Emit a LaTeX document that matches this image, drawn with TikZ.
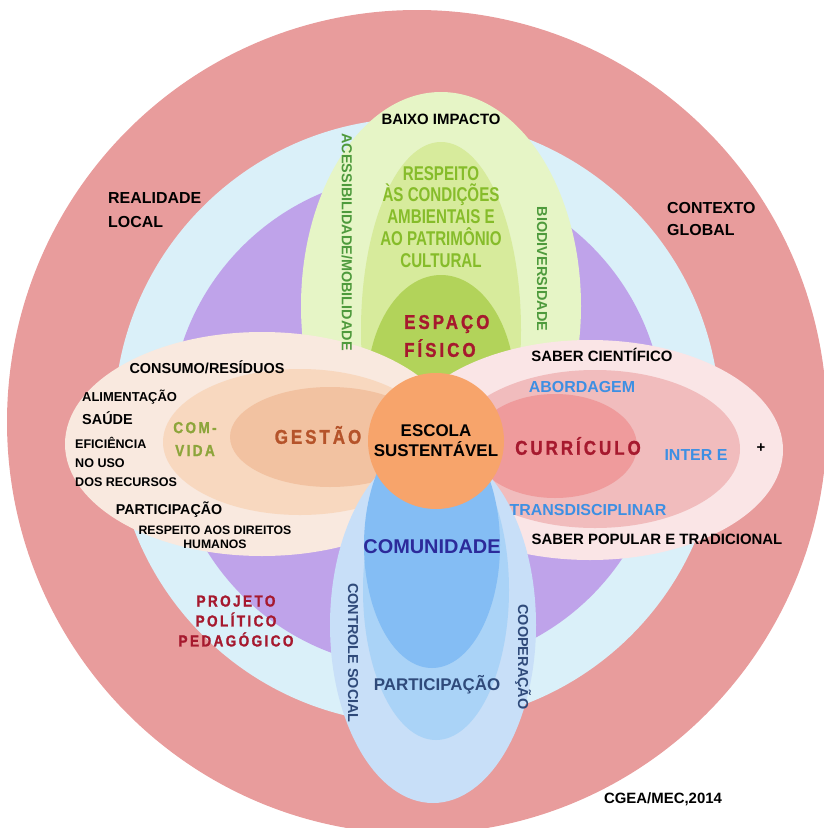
\documentclass[tikz,border=0pt]{standalone}
\usepackage{fontspec}
\setmainfont{Liberation Sans}
\newfontfamily\spacedfont[LetterSpace=15,FakeStretch=0.85,FakeBold=1.2]{Liberation Sans}
\newfontfamily\narrowfont[FakeStretch=0.76]{Liberation Sans}
\usepackage{xcolor}
\usepackage{tikz}

\definecolor{ringred}{HTML}{E89C9C}
\definecolor{ringsky}{HTML}{DAF0F9}
\definecolor{ringlilac}{HTML}{BFA3EA}
\definecolor{green1}{HTML}{E6F5C6}
\definecolor{green2}{HTML}{D7EB9C}
\definecolor{green3}{HTML}{B2D35A}
\definecolor{peach1}{HTML}{F9E9DF}
\definecolor{peach2}{HTML}{F8D8BF}
\definecolor{peach3}{HTML}{F2C2A1}
\definecolor{pink1}{HTML}{FAE5E6}
\definecolor{pink2}{HTML}{F1BCBD}
\definecolor{pink3}{HTML}{EF9B9C}
\definecolor{blue1}{HTML}{C8DFF8}
\definecolor{blue2}{HTML}{AAD3F7}
\definecolor{blue3}{HTML}{84BDF4}
\definecolor{core}{HTML}{F7A46B}
\definecolor{leaf}{HTML}{4E9A3C}
\definecolor{lime}{HTML}{86BC2A}
\definecolor{wine}{HTML}{A6192E}
\definecolor{rust}{HTML}{B5532A}
\definecolor{olive}{HTML}{8DA53B}
\definecolor{sky}{HTML}{3D8FE3}
\definecolor{indigo}{HTML}{2C2A9A}
\definecolor{slate}{HTML}{2F4A7A}

\tikzset{
  word/.style = {
      inner sep=0pt,
      align=center,
      font=\bfseries\fontsize{15}{18}\selectfont
  },
  note/.style = {
      word,
      font=\bfseries\fontsize{13}{19}\selectfont
  },
  outer/.style = {
      word,
      align=left,
      anchor=west,
      font=\bfseries\fontsize{16}{23}\selectfont
  },
  spaced/.style = {
      word,
      color=wine,
      font=\spacedfont\bfseries\fontsize{20}{28}\selectfont
  },
  upright/.style = {
      word,
      rotate=-90,
      font=\bfseries\fontsize{14.5}{18}\selectfont
  },
  topic/.style = {
      word,
      color=sky,
      font=\bfseries\fontsize{16}{19}\selectfont
  }
}

\begin{document}
\begin{tikzpicture}[x=1bp, y=-1bp]
    \useasboundingbox (0,0) rectangle (824,828);
    % Rings
    \fill[ringred] (417,422) ellipse [x radius=410, y radius=412];
    \fill[ringsky] (417,421) circle [radius=303];
    \fill[ringlilac] (417,421) circle [radius=247];
    % Petals
    \fill[green1] (441,306) ellipse [x radius=140, y radius=214];
    \fill[green2] (441,330) ellipse [x radius=80, y radius=188];
    \fill[green3] (441,388) ellipse [x radius=74, y radius=113];
    \fill[peach1] (262,444) ellipse [x radius=197, y radius=112];
    \fill[peach2] (300,442) ellipse [x radius=137, y radius=73];
    \fill[peach3] (330,437) ellipse [x radius=100, y radius=50];
    \fill[pink1] (590,450) ellipse [x radius=193, y radius=110];
    \fill[pink2] (595,449) ellipse [x radius=145, y radius=79];
    \fill[pink3] (555,446) ellipse [x radius=82, y radius=52];
    \fill[blue1] (433,625) ellipse [x radius=103, y radius=178];
    \fill[blue2] (436,590) ellipse [x radius=73, y radius=150];
    \fill[blue3] (432,545) ellipse [x radius=68, y radius=123];
    \fill[core] (436,441) circle [radius=68];
    % Outer labels
    \node[outer, font=\bfseries\fontsize{16}{24}\selectfont] (realidade) at (108,210) {REALIDADE\\LOCAL};
    \node[outer, font=\bfseries\fontsize{16}{22}\selectfont] (contexto) at (667,219) {CONTEXTO\\GLOBAL};
    \node[spaced, font=\spacedfont\bfseries\fontsize{16}{20}\selectfont] (ppp) at (236,621) {PROJETO\\POLÍTICO\\PEDAGÓGICO};
    \node[word] (fonte) at (663,799) {CGEA/MEC,2014};
    % Espaco fisico
    \node[word] (baixo) at (441,119) {BAIXO IMPACTO};
    \node[word, color=lime, font=\narrowfont\bfseries\fontsize{20}{22}\selectfont] (respeito) at (441,217)
        {RESPEITO\\ÀS CONDIÇÕES\\AMBIENTAIS E\\AO PATRIMÔNIO\\CULTURAL};
    \node[spaced, align=left, anchor=west] (espaco) at (404,336) {ESPAÇO\\FÍSICO};
    \node[upright, color=leaf] (acesso) at (347,242) {ACESSIBILIDADE/MOBILIDADE};
    \node[upright, color=leaf] (biodiv) at (542,269) {BIODIVERSIDADE};
    % Gestao
    \node[word, font=\bfseries\fontsize{14.5}{18}\selectfont] (consumo) at (207,367) {CONSUMO/RESÍDUOS};
    \node[note, anchor=west] (alimento) at (82,397) {ALIMENTAÇÃO};
    \node[note, anchor=west, font=\bfseries\fontsize{14.5}{18}\selectfont] (saude) at (82,418) {SAÚDE};
    \node[note, anchor=west, align=left, font=\bfseries\fontsize{12.6}{19}\selectfont] (recursos) at (75,462)
        {EFICIÊNCIA\\NO USO\\DOS RECURSOS};
    \node[spaced, color=olive, font=\spacedfont\bfseries\fontsize{16}{23}\selectfont] (comvida) at (195,439) {COM-\\VIDA};
    \node[spaced, color=rust] (gestao) at (318,435) {GESTÃO};
    \node[word, font=\bfseries\fontsize{14.3}{18}\selectfont] (partic) at (169,510) {PARTICIPAÇÃO};
    \node[note, font=\bfseries\fontsize{12.3}{14}\selectfont] (direitos) at (215,537) {RESPEITO AOS DIREITOS\\HUMANOS};
    % Curriculo
    \node[word] (cientifico) at (602,355) {SABER CIENTÍFICO};
    \node[topic] (abordagem) at (582,387) {ABORDAGEM};
    \node[spaced] (curriculo) at (578,446) {CURRÍCULO};
    \node[topic] (inter) at (696,455) {INTER E};
    \node[word] (mais) at (761,448) {+};
    \node[topic] (trans) at (588,510) {TRANSDISCIPLINAR};
    \node[word] (popular) at (657,539) {SABER POPULAR E TRADICIONAL};
    % Comunidade
    \node[word, color=indigo, font=\bfseries\fontsize{20}{24}\selectfont] (comunidade) at (432,547) {COMUNIDADE};
    \node[word, color=slate, font=\bfseries\fontsize{17}{20}\selectfont] (participa) at (437,685) {PARTICIPAÇÃO};
    \node[upright, color=slate] (controle) at (353,653) {CONTROLE SOCIAL};
    \node[upright, color=slate] (coopera) at (523,657) {COOPERAÇÃO};
    % Centro
    \node[word, font=\bfseries\fontsize{17}{20}\selectfont] (escola) at (436,441) {ESCOLA\\SUSTENTÁVEL};
\end{tikzpicture}
\end{document}
